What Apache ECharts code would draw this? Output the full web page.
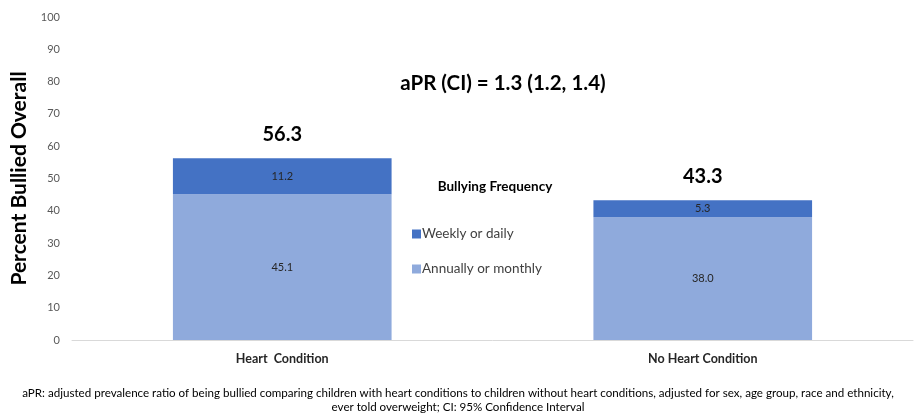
<!DOCTYPE html>
<html>
<head>
<meta charset="utf-8">
<script src="https://cdn.jsdelivr.net/npm/echarts@6/dist/echarts.min.js"></script>
<style>
    html, body { margin: 0; padding: 0; background: #fff; }
    #chart { width: 917px; height: 415px; }
</style>
</head>
<body>
<div id="chart"></div>
<script>
/* ===================== 数据 ===================== */
var categories = ['Heart  Condition', 'No Heart Condition'];
var weeklyDaily = [11.2, 5.3];
var annuallyMonthly = [45.1, 38.0];
var totals = [56.3, 43.3];
var yTicks = [0, 10, 20, 30, 40, 50, 60, 70, 80, 90, 100];
/* ===================== end ===================== */

var FONT = 'Lato, "Noto Sans", sans-serif';
var DARK = '#4472C4';
var LIGHT = '#8FAADC';

var chart = echarts.init(document.getElementById('chart'));

var option = {
    animation: false,
    textStyle: { fontFamily: FONT },
    grid: { left: 72, right: 4, top: 17, bottom: 75, containLabel: false },
    legend: {
        orient: 'vertical',
        left: 407,
        top: 222,
        itemWidth: 9,
        itemHeight: 9,
        itemGap: 21,
        icon: 'rect',
        data: ['Weekly or daily', 'Annually or monthly'],
        textStyle: { fontSize: 13.5, color: '#404040', fontFamily: FONT, padding: [0, 0, 0, -4] }
    },
    xAxis: {
        type: 'category',
        data: categories,
        axisLine: { lineStyle: { color: '#d9d9d9', width: 1 } },
        axisTick: { show: false },
        axisLabel: { fontSize: 12.5, color: '#262626', margin: 12, fontWeight: 'bold' }
    },
    yAxis: {
        type: 'value',
        min: yTicks[0],
        max: yTicks[yTicks.length - 1],
        interval: 10,
        name: 'Percent Bullied Overall',
        nameLocation: 'middle',
        nameGap: 33,
        nameTextStyle: { fontSize: 21, fontWeight: 'bold', color: '#000' },
        axisLine: { show: false },
        axisTick: { show: false },
        splitLine: { show: false },
        axisLabel: { fontSize: 11, color: '#595959', margin: 12 }
    },
    series: [
        {
            name: 'Annually or monthly',
            type: 'bar',
            stack: 'freq',
            barWidth: '52%',
            itemStyle: { color: LIGHT },
            label: {
                show: true, position: 'inside', fontSize: 11, color: '#262626',
                formatter: function (p) { return p.value.toFixed(1); }
            },
            data: annuallyMonthly
        },
        {
            name: 'Weekly or daily',
            type: 'bar',
            stack: 'freq',
            itemStyle: { color: DARK },
            label: {
                show: true, position: 'inside', fontSize: 11, color: '#262626',
                formatter: function (p) { return p.value.toFixed(1); }
            },
            data: weeklyDaily
        },
        {
            // 总数标签，点本身不画出来
            name: 'Total',
            type: 'scatter',
            symbolSize: 0,
            silent: true,
            itemStyle: { opacity: 1 },
            label: {
                show: true, position: 'top', distance: 14,
                fontSize: 20, fontWeight: 'bold', color: '#000', opacity: 1,
                textBorderWidth: 0,
                formatter: function (p) { return p.value.toFixed(1); }
            },
            data: totals
        }
    ],
    graphic: [
        {
            type: 'text', x: 503, y: 83,
            style: {
                text: 'aPR (CI) = 1.3 (1.2, 1.4)', font: 'bold 20.5px ' + FONT, fill: '#000',
                align: 'center', verticalAlign: 'middle'
            }
        },
        {
            type: 'text', x: 495, y: 187,
            style: {
                text: 'Bullying Frequency', font: 'bold 13.5px ' + FONT, fill: '#000',
                align: 'center', verticalAlign: 'middle'
            }
        },
        {
            type: 'text', x: 458, y: 400,
            style: {
                text: 'aPR: adjusted prevalence ratio of being bullied comparing children with heart conditions to children without heart conditions, adjusted for sex, age group, race and ethnicity,\never told overweight; CI: 95% Confidence Interval',
                font: '11.6px ' + FONT, fill: '#000', align: 'center', verticalAlign: 'middle', lineHeight: 14
            }
        }
    ]
};

chart.setOption(option);
</script>
</body>
</html>
